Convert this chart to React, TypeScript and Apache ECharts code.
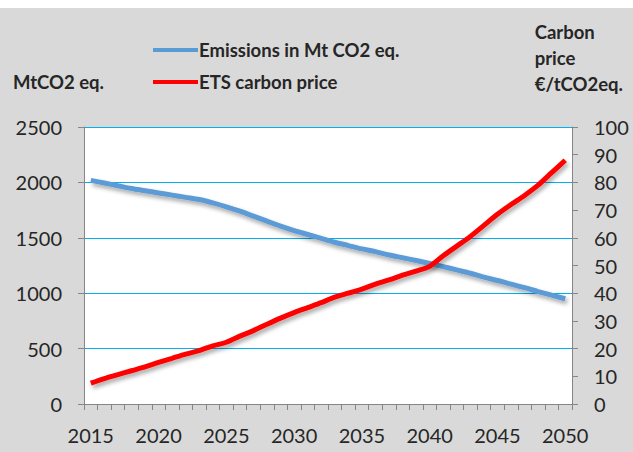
import React, { useEffect, useRef } from "react";
import * as echarts from "echarts";

const years: string[] = [
  "2015","2016","2017","2018","2019","2020","2021","2022","2023","2024",
  "2025","2026","2027","2028","2029","2030","2031","2032","2033","2034",
  "2035","2036","2037","2038","2039","2040","2041","2042","2043","2044",
  "2045","2046","2047","2048","2049","2050",
];

const emissions: number[] = [
  2018, 1995, 1970, 1945, 1925, 1905, 1885, 1865, 1845, 1815,
  1780, 1740, 1695, 1650, 1605, 1565, 1530, 1495, 1460, 1430,
  1400, 1375, 1345, 1320, 1295, 1268, 1240, 1210, 1180, 1145,
  1115, 1082, 1050, 1015, 982, 950,
];

const carbonPrice: number[] = [
  7.5, 9.2, 10.6, 12.0, 13.4, 15.0, 16.5, 18.0, 19.3, 21.0,
  22.3, 24.5, 26.5, 28.8, 31.0, 33.0, 34.8, 36.6, 38.6, 40.0,
  41.5, 43.3, 44.8, 46.5, 48.0, 49.7, 53.5, 57.0, 60.5, 64.5,
  68.5, 72.0, 75.3, 79.0, 83.5, 88.0,
];

const seriesNames: string[] = ["Emissions in Mt CO2 eq.", "ETS carbon price"];
const leftAxisTitle = "MtCO2 eq.";
const rightAxisTitle = "Carbon\nprice\n€/tCO2eq.";

const FONT = "Lato, 'Open Sans', sans-serif";
const TXT = "#262626";

export default function App() {
  const ref = useRef<HTMLDivElement>(null);
  useEffect(() => {
    if (!ref.current) return;
    const chart = echarts.init(ref.current, undefined, { renderer: "svg" });
    const shadow = {
      shadowColor: "rgba(0,0,0,0.35)",
      shadowBlur: 4,
      shadowOffsetX: 2,
      shadowOffsetY: 3,
    };
    chart.setOption({
      animation: false,
      backgroundColor: "#D9D9D9",
      textStyle: { fontFamily: FONT },
      grid: {
        left: 84,
        right: 61,
        top: 127,
        bottom: 48,
        containLabel: false,
        show: true,
        backgroundColor: "#FFFFFF",
        borderWidth: 0,
      },
      legend: {
        orient: "vertical",
        left: 148,
        top: 34,
        itemWidth: 45,
        itemHeight: 4,
        itemGap: 10,
        icon: "rect",
        data: seriesNames,
        textStyle: {
          fontFamily: FONT,
          fontSize: 18.5,
          fontWeight: "bold",
          color: TXT,
          lineHeight: 22,
          padding: [0, 0, 0, -4],
        },
      },
      graphic: [
        {
          type: "rect",
          left: 0,
          top: 0,
          shape: { width: 633, height: 8 },
          style: { fill: "#FFFFFF" },
          silent: true,
        },
        {
          type: "text",
          left: 13,
          top: 72,
          style: {
            text: leftAxisTitle,
            font: `bold 18.5px ${FONT}`,
            fill: TXT,
          },
        },
        {
          type: "text",
          right: 10,
          top: 19,
          style: {
            text: rightAxisTitle,
            font: `bold 18.5px ${FONT}`,
            fill: TXT,
            align: "right",
            lineHeight: 26,
          },
        },
      ],
      xAxis: {
        type: "category",
        data: years,
        boundaryGap: true,
        axisLine: { show: true, lineStyle: { color: "#868686", width: 1 } },
        axisTick: {
          show: true,
          interval: 0,
          length: 6,
          lineStyle: { color: "#868686" },
        },
        axisLabel: {
          interval: 4,
          fontSize: 20,
          color: TXT,
          fontFamily: FONT,
          margin: 21,
        },
        splitLine: { show: false },
      },
      yAxis: [
        {
          type: "value",
          min: 0,
          max: 2500,
          interval: 500,
          axisLine: { show: true, lineStyle: { color: "#868686" } },
          axisTick: { show: true, length: 6, lineStyle: { color: "#868686" } },
          axisLabel: {
            fontSize: 20,
            color: TXT,
            fontFamily: FONT,
            margin: 22,
            formatter: (v: number) => String(v),
          },
          splitLine: { show: true, lineStyle: { color: "#00B0F0", width: 1 } },
        },
        {
          type: "value",
          min: 0,
          max: 100,
          interval: 10,
          position: "right",
          axisLine: { show: true, lineStyle: { color: "#868686" } },
          axisTick: { show: true, length: 6, lineStyle: { color: "#868686" } },
          axisLabel: {
            fontSize: 20,
            color: TXT,
            fontFamily: FONT,
            margin: 22,
            formatter: (v: number) => String(v),
          },
          splitLine: { show: false },
        },
      ],
      series: [
        {
          name: seriesNames[0],
          type: "line",
          yAxisIndex: 0,
          data: emissions,
          smooth: 0.3,
          showSymbol: false,
          itemStyle: { color: "#5B9BD5" },
          lineStyle: { color: "#5B9BD5", width: 5, ...shadow },
        },
        {
          name: seriesNames[1],
          type: "line",
          yAxisIndex: 1,
          data: carbonPrice,
          smooth: 0.3,
          showSymbol: false,
          itemStyle: { color: "#FF0000" },
          lineStyle: { color: "#FF0000", width: 5, ...shadow },
        },
      ],
    });
    return () => chart.dispose();
  }, []);
  return (
    <div
      ref={ref}
      style={{ position: "absolute", left: 0, top: 0, width: 633, height: 452 }}
    />
  );
}
